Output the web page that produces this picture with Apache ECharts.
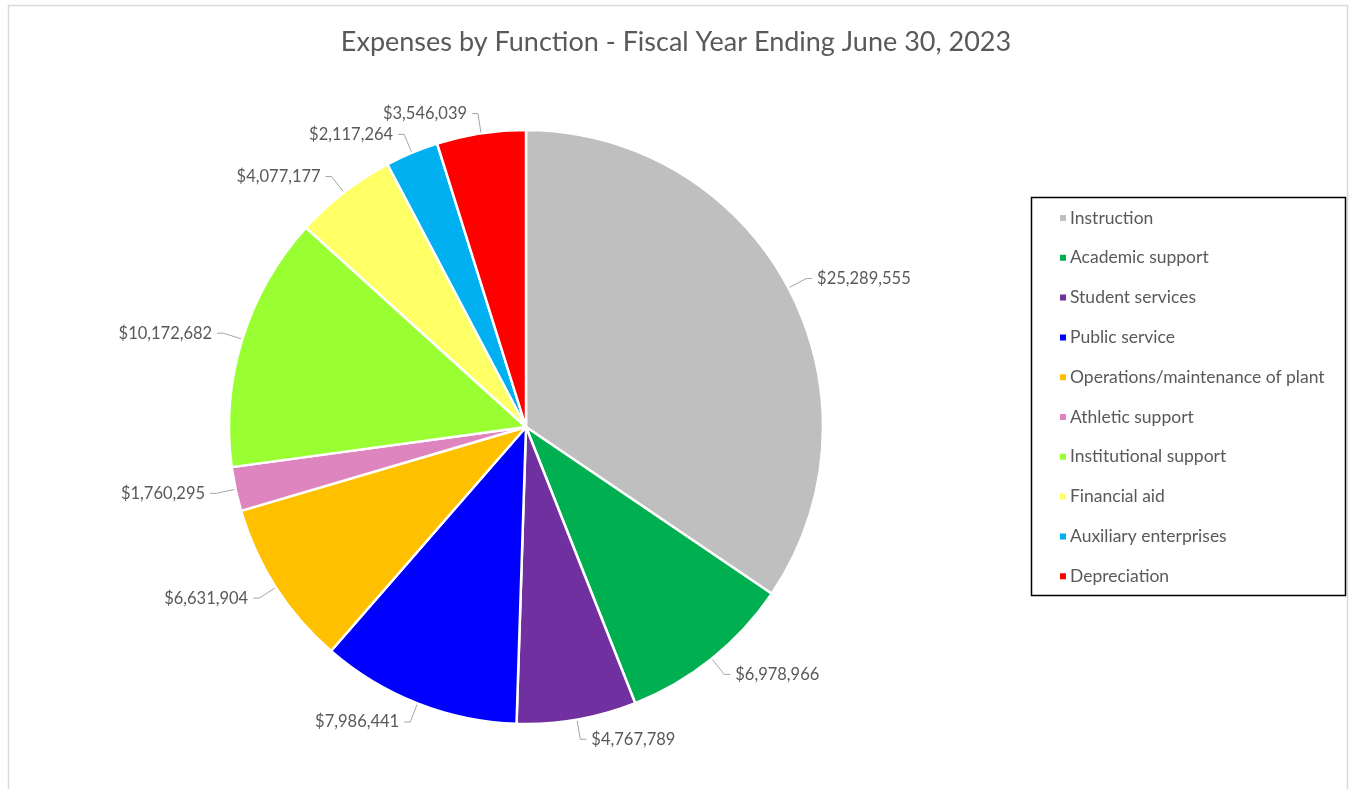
<!DOCTYPE html>
<html>
<head>
<meta charset="utf-8">
<script src="https://cdn.jsdelivr.net/npm/echarts@6/dist/echarts.min.js"></script>
<style>
html,body{margin:0;padding:0;background:#fff;}
#chart{width:1352px;height:789px;}
</style>
</head>
<body>
<div id="chart"></div>
<script>
const categories = ["Instruction","Academic support","Student services","Public service","Operations/maintenance of plant","Athletic support","Institutional support","Financial aid","Auxiliary enterprises","Depreciation"];
const values = [25289555, 6978966, 4767789, 7986441, 6631904, 1760295, 10172682, 4077177, 2117264, 3546039];
const colors = ["#BFBFBF","#00B050","#7030A0","#0000FF","#FFC000","#DE85C0","#99FF33","#FFFF66","#00B0F0","#FF0000"];
const titleText = "Expenses by Function - Fiscal Year Ending June 30, 2023";

const FONT = "Lato, 'Open Sans', sans-serif";
const chart = echarts.init(document.getElementById('chart'));
function fmt(v){ return '$' + v.toString().replace(/\B(?=(\d{3})+(?!\d))/g, ','); }

chart.setOption({
  animation: false,
  color: colors,
  title: {
    text: titleText,
    left: 'center',
    top: 24,
    textStyle: {fontFamily: FONT, fontSize: 27, fontWeight: 'normal', color: '#595959'}
  },
  graphic: [
    {type:'rect', shape:{x:8.5, y:5.5, width:1339, height:800}, style:{fill:'none', stroke:'#d9d9d9', lineWidth:1.5}, silent:true, z:-1},
    {type:'rect', shape:{x:1031.5, y:197.5, width:314, height:398}, style:{fill:'none', stroke:'#000', lineWidth:1.5}, silent:true}
  ],
  legend: {
    orient: 'vertical',
    left: 1053,
    top: 203,
    icon: 'rect',
    itemWidth: 8,
    itemHeight: 8,
    itemGap: 19.8,
    textStyle: {fontFamily: FONT, fontSize: 17.5, color: '#595959', lineHeight: 20, padding:[0,0,0,-2]},
    data: categories
  },
  series: [{
    type: 'pie',
    center: [526, 427],
    radius: 297,
    startAngle: 90,
    clockwise: true,
    avoidLabelOverlap: true,
    data: categories.map((c,i)=>({name:c, value:values[i]})),
    itemStyle: {borderColor: '#fff', borderWidth: 2.5},
    label: {
      show: true,
      position: 'outside',
      formatter: p => fmt(p.value),
      fontFamily: FONT,
      fontSize: 16.5,
      color: '#595959'
    },
    labelLine: {show: true, length: 20, length2: 6, lineStyle: {color: '#a6a6a6', width: 1}},
    emphasis: {disabled: true}
  }]
});
</script>
</body>
</html>
